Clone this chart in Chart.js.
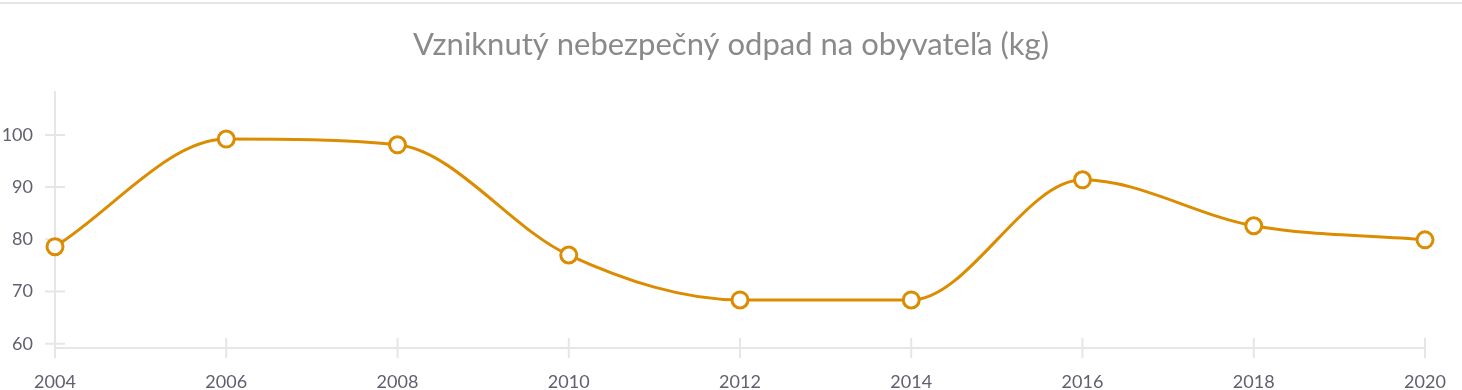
<!DOCTYPE html>
<html>
<head>
<meta charset="utf-8">
<script src="https://cdn.jsdelivr.net/npm/chart.js@4/dist/chart.umd.min.js"></script>
<style>
  html, body { margin: 0; padding: 0; background: #fff; overflow: hidden; }
  #wrap { width: 1462px; height: 390px; position: relative; }
</style>
</head>
<body>
<div id="wrap"><canvas id="wasteChart"></canvas></div>
<script>
const years = ['2004', '2006', '2008', '2010', '2012', '2014', '2016', '2018', '2020'];
const wasteKg = [78.6, 99.2, 98.1, 77.0, 68.4, 68.4, 91.4, 82.6, 79.9];
const yTicks = [60, 70, 80, 90, 100];
const chartTitle = 'Vzniknutý nebezpečný odpad na obyvateľa (kg)';

const axisColor = '#e6e6e6';
const labelColor = '#606070';

// top rule, centred title, axis lines and ticks crossing them
const axisDecor = {
  id: 'axisDecor',
  beforeDraw(chart) {
    const { ctx, chartArea: a, scales } = chart;
    ctx.save();
    ctx.fillStyle = axisColor;
    ctx.fillRect(0, 2, chart.width, 2);

    ctx.fillStyle = '#8a8a8a';
    ctx.font = '31px Lato';
    ctx.textAlign = 'center';
    ctx.textBaseline = 'middle';
    ctx.fillText(chartTitle, chart.width / 2, 45);

    ctx.strokeStyle = axisColor;
    ctx.lineWidth = 2;
    ctx.beginPath();
    ctx.moveTo(a.left, a.top);
    ctx.lineTo(a.left, a.bottom + 10);
    ctx.moveTo(a.left, a.bottom);
    ctx.lineTo(a.right, a.bottom);
    years.forEach((y, i) => {
      const x = scales.x.getPixelForValue(i);
      ctx.moveTo(x, a.bottom - 10);
      ctx.lineTo(x, a.bottom + 10);
    });
    yTicks.forEach(v => {
      const y = scales.y.getPixelForValue(v);
      ctx.moveTo(a.left - 10, y);
      ctx.lineTo(a.left + 10, y);
    });
    ctx.stroke();
    ctx.restore();
  }
};

new Chart(document.getElementById('wasteChart'), {
  type: 'line',
  data: {
    labels: years,
    datasets: [{
      data: wasteKg,
      borderColor: '#dc8c00',
      borderWidth: 3,
      cubicInterpolationMode: 'monotone',
      pointRadius: 8,
      pointHoverRadius: 8,
      pointBorderWidth: 3,
      pointBackgroundColor: '#fff',
      pointBorderColor: '#dc8c00',
      clip: false
    }]
  },
  options: {
    responsive: true,
    maintainAspectRatio: false,
    animation: false,
    layout: { padding: { top: 91, right: 37, left: 0, bottom: 0 } },
    plugins: {
      legend: { display: false },
      tooltip: { enabled: false },
      title: { display: false }
    },
    scales: {
      x: {
        type: 'category',
        offset: false,
        grid: { display: false, drawTicks: false },
        border: { display: false },
        ticks: {
          color: labelColor,
          font: { family: 'Lato', size: 18 },
          padding: 23,
          maxRotation: 0,
          autoSkip: false
        },
        afterFit(s) {
          s.height = 42;
          s.paddingLeft = 0;
          s.paddingRight = 0;
        }
      },
      y: {
        min: 59.2,
        max: 108.4,
        grid: { display: false, drawTicks: false },
        border: { display: false },
        afterBuildTicks(s) { s.ticks = yTicks.map(v => ({ value: v })); },
        ticks: {
          color: labelColor,
          font: { family: 'Lato', size: 18 },
          padding: 22
        },
        afterFit(s) { s.width = 55; }
      }
    }
  },
  plugins: [axisDecor]
});
</script>
</body>
</html>
